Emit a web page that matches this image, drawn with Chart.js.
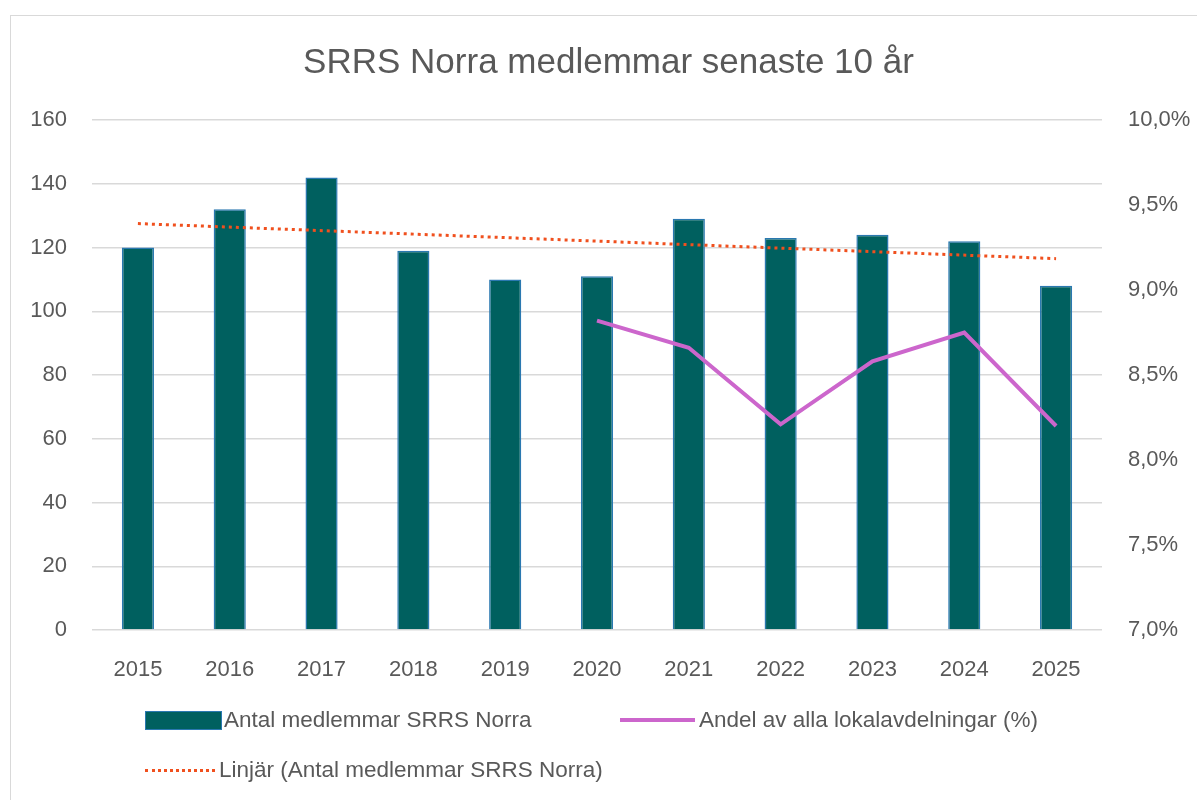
<!DOCTYPE html>
<html>
<head>
<meta charset="utf-8">
<script src="https://cdn.jsdelivr.net/npm/chart.js@4.4.1/dist/chart.umd.min.js"></script>
<style>
  body { margin: 0; background: #fff; font-family: "Liberation Sans", Arial, sans-serif; }
  #wrap { position: relative; width: 1197px; height: 800px; overflow: hidden; }
  #frame { position: absolute; left: 10px; top: 15px; width: 1300px; height: 900px; border: 1.5px solid #d9d9d9; }
  #c { position: absolute; left: 0; top: 0; }
  .leg { position: absolute; font-size: 22.5px; line-height: 26px; color: #595959; white-space: nowrap; }
  .sw { position: absolute; }
</style>
</head>
<body>
<div id="wrap">
  <div id="frame"></div>
  <canvas id="c" width="1197" height="800"></canvas>
  <div id="legend"></div>
</div>
<script>
// data
var years = ['2015','2016','2017','2018','2019','2020','2021','2022','2023','2024','2025'];
var members = [120, 132, 142, 119, 110, 111, 129, 123, 124, 122, 108];
var share = [null, null, null, null, null, 8.82, 8.66, 8.21, 8.58, 8.75, 8.20];
// trend line end points (Excel "Linjär"), gaps in between are spanned
var trend = [127.5, null, null, null, null, null, null, null, null, null, 116.5];

var labelMembers = 'Antal medlemmar SRRS Norra';
var labelShare = 'Andel av alla lokalavdelningar (%)';
var labelTrend = 'Linjär (Antal medlemmar SRRS Norra)';

var grey = '#595959';
var teal = '#00605f';
var pink = '#cc66cc';
var orange = '#f0501e';

Chart.defaults.font.family = '"Liberation Sans", Arial, sans-serif';
Chart.defaults.color = grey;

var chart = new Chart(document.getElementById('c'), {
  type: 'bar',
  data: {
    labels: years,
    datasets: [
      {
        label: labelTrend,
        type: 'line',
        data: trend,
        yAxisID: 'y',
        borderColor: orange,
        borderWidth: 3,
        borderDash: [3, 4],
        pointRadius: 0,
        spanGaps: true,
        order: 1
      },
      {
        label: labelShare,
        type: 'line',
        data: share,
        yAxisID: 'y2',
        borderColor: pink,
        borderWidth: 4,
        pointRadius: 0,
        tension: 0,
        order: 2
      },
      {
        label: labelMembers,
        data: members,
        yAxisID: 'y',
        backgroundColor: teal,
        borderColor: '#2a78b0',
        borderWidth: 1.5,
        categoryPercentage: 1,
        barPercentage: 0.35,
        order: 3
      }
    ]
  },
  options: {
    responsive: false,
    animation: false,
    layout: { padding: { left: 20, top: 40, right: 0, bottom: 110 } },
    plugins: {
      legend: { display: false },
      tooltip: { enabled: false },
      title: {
        display: true,
        text: 'SRRS Norra medlemmar senaste 10 år',
        color: grey,
        font: { size: 35, weight: 'normal' },
        padding: { top: 2, bottom: 36 }
      }
    },
    scales: {
      x: {
        grid: { display: false },
        border: { display: false },
        ticks: { font: { size: 22 }, color: grey, padding: 19 },
        afterFit: function (s) { s.height = 60; }
      },
      y: {
        min: 0, max: 160,
        ticks: { stepSize: 20, font: { size: 22 }, color: grey, padding: 25 },
        grid: { color: '#d9d9d9', lineWidth: 1.5, drawTicks: false },
        border: { display: false },
        afterFit: function (s) { s.width = 72; }
      },
      y2: {
        position: 'right',
        min: 7, max: 10,
        ticks: {
          stepSize: 0.5, font: { size: 22 }, color: grey, padding: 26,
          callback: function (v) { return v.toFixed(1).replace('.', ',') + '%'; }
        },
        grid: { display: false, drawTicks: false },
        border: { display: false },
        afterFit: function (s) { s.width = 95; }
      }
    }
  }
});

// legend laid out like the Excel one
var legend = document.getElementById('legend');
function addItem(x, y, swatch, text) {
  var sw = document.createElement('div');
  sw.className = 'sw';
  Object.assign(sw.style, swatch);
  sw.style.left = x + 'px';
  legend.appendChild(sw);
  var t = document.createElement('div');
  t.className = 'leg';
  t.textContent = text;
  t.style.left = (x + parseInt(swatch.width) + 4) + 'px';
  t.style.top = (y - 13) + 'px';
  legend.appendChild(t);
}
addItem(145, 720, { top: '711px', width: '75px', height: '17px', background: teal, border: '1px solid #2a78b0' }, labelMembers);
addItem(620, 720, { top: '718px', width: '75px', height: '4px', background: pink }, labelShare);
addItem(145, 770, { top: '769px', width: '70px', height: '0', borderTop: '3px dotted ' + orange }, labelTrend);
</script>
</body>
</html>
